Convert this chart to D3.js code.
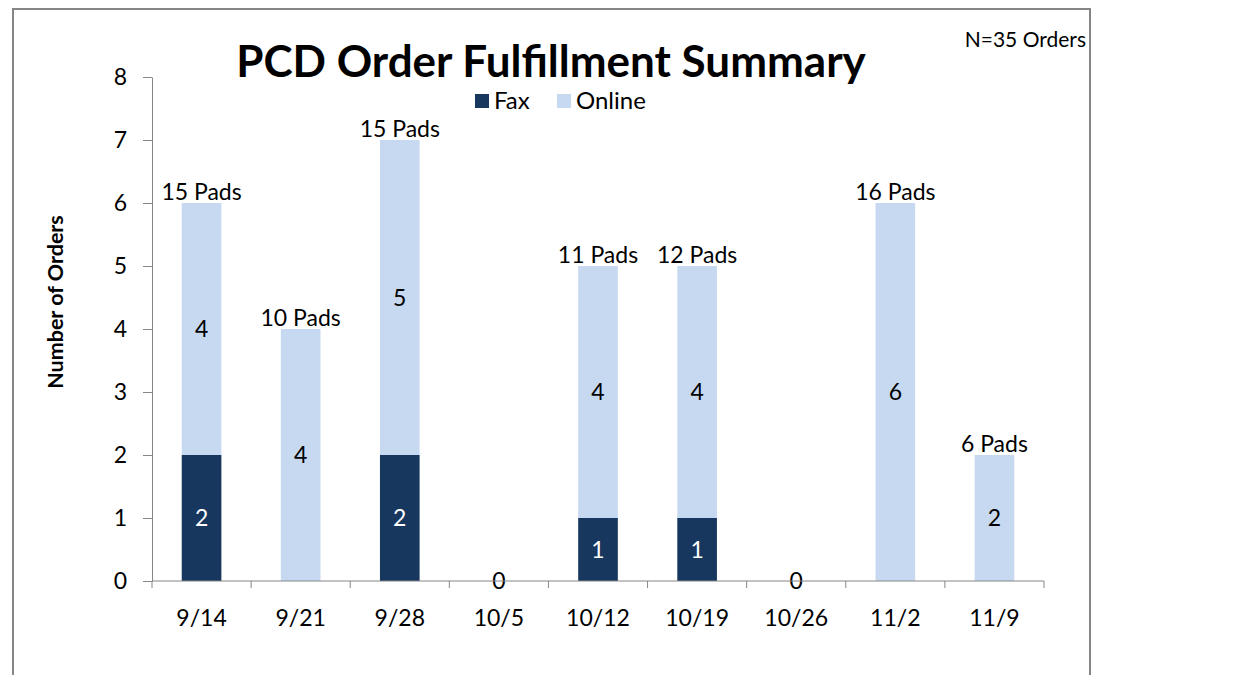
<!DOCTYPE html>
<html><head><meta charset="utf-8">
<script src="https://cdn.jsdelivr.net/npm/d3@7"></script>
<style>body{margin:0;background:#fff}svg{display:block}text{font-family:Lato,"Open Sans",sans-serif}</style>
</head><body>
<svg id="c" width="1244" height="675"></svg>
<script>
const categories = ["9/14","9/21","9/28","10/5","10/12","10/19","10/26","11/2","11/9"];
const fax = [2,0,2,0,1,1,0,0,0];
const online = [4,4,5,0,4,4,0,6,2];
const padLabels = ["15 Pads","10 Pads","15 Pads","","11 Pads","12 Pads","","16 Pads","6 Pads"];
const yTicks = [0,1,2,3,4,5,6,7,8];

const svg = d3.select("#c");
const C_FAX = "#17375E", C_ON = "#C6D9F1", AX = "#868686";
const FS = 23;
svg.append("rect").attr("x",13).attr("y",9).attr("width",1077).attr("height",700)
  .attr("fill","#fff").attr("stroke",AX).attr("stroke-width",2);

const m = {l:152, r:1044, t:77, b:581};
const x = d3.scaleBand().domain(categories).range([m.l,m.r]).paddingInner(0.6).paddingOuter(0.3);
const xb = d3.scaleBand().domain(categories).range([m.l,m.r]);
const y = d3.scaleLinear().domain([0,8]).range([m.b,m.t]);

const data = categories.map((c,i)=>({c,fax:fax[i],online:online[i],pads:padLabels[i]}));

// bars
const g = svg.append("g");
g.selectAll(".f").data(data).join("rect").attr("x",d=>x(d.c)).attr("width",x.bandwidth())
  .attr("y",d=>y(d.fax)).attr("height",d=>y(0)-y(d.fax)).attr("fill",C_FAX);
g.selectAll(".o").data(data).join("rect").attr("x",d=>x(d.c)).attr("width",x.bandwidth())
  .attr("y",d=>y(d.fax+d.online)).attr("height",d=>y(d.fax)-y(d.fax+d.online)).attr("fill",C_ON);

// axes
const ya = svg.append("g").attr("transform",`translate(${m.l},0)`)
  .call(d3.axisLeft(y).tickValues(yTicks).tickSize(9).tickPadding(16).tickSizeOuter(0));
ya.select(".domain").attr("stroke",AX);
ya.selectAll(".tick line").attr("stroke",AX);
ya.selectAll(".tick text").attr("font-size",FS).attr("fill","#000").attr("font-family","Lato");

const xa = svg.append("g").attr("transform",`translate(0,${m.b})`);
xa.append("line").attr("x1",m.l).attr("x2",m.r).attr("stroke",AX);
const bounds = categories.map(c=>xb(c)).concat([m.r]);
xa.selectAll(".tk").data(bounds).join("line").attr("x1",d=>d).attr("x2",d=>d).attr("y1",0).attr("y2",7).attr("stroke",AX);
xa.selectAll(".lb").data(categories).join("text").attr("x",d=>xb(d)+xb.bandwidth()/2).attr("y",45)
  .attr("text-anchor","middle").attr("font-size",FS).text(d=>d);

// segment labels
const cx = d=>x(d.c)+x.bandwidth()/2;
g.selectAll(".fl").data(data.filter(d=>d.fax>0)).join("text").attr("x",cx).attr("y",d=>y(d.fax/2)+8)
  .attr("text-anchor","middle").attr("font-size",FS).attr("fill","#fff").text(d=>d.fax);
g.selectAll(".ol").data(data.filter(d=>d.online>0)).join("text").attr("x",cx).attr("y",d=>y(d.fax+d.online/2)+8)
  .attr("text-anchor","middle").attr("font-size",FS).attr("fill","#000").text(d=>d.online);
g.selectAll(".zl").data(data.filter(d=>d.fax+d.online===0)).join("text").attr("x",cx).attr("y",y(0)+8)
  .attr("text-anchor","middle").attr("font-size",FS).attr("fill","#000").text("0");
g.selectAll(".pl").data(data.filter(d=>d.pads)).join("text").attr("x",cx).attr("y",d=>y(d.fax+d.online)-3)
  .attr("text-anchor","middle").attr("font-size",FS).attr("fill","#000").text(d=>d.pads);

// titles
svg.append("text").attr("x",551).attr("y",77).attr("text-anchor","middle").attr("font-size",44)
  .attr("font-weight","bold").text("PCD Order Fulfillment Summary");
svg.append("text").attr("x",1086).attr("y",47).attr("text-anchor","end").attr("font-size",21).text("N=35 Orders");
svg.append("text").attr("transform","translate(63,302) rotate(-90)").attr("text-anchor","middle")
  .attr("font-size",21.5).attr("font-weight","bold").text("Number of Orders");

// legend
const leg = svg.append("g");
[["Fax",C_FAX,475],["Online",C_ON,557]].forEach(([t,c,lx])=>{
  leg.append("rect").attr("x",lx).attr("y",94).attr("width",14).attr("height",14).attr("fill",c);
  leg.append("text").attr("x",lx+19).attr("y",109).attr("font-size",24).text(t);
});
</script>
</body></html>
